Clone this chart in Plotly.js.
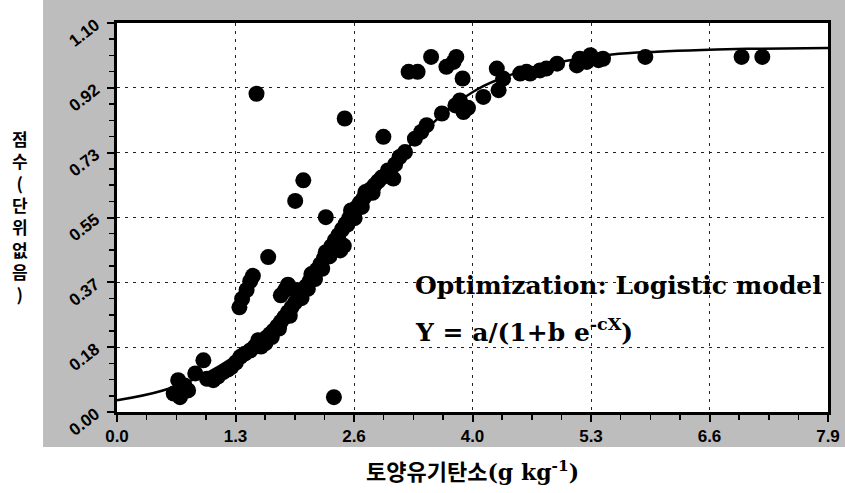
<!DOCTYPE html>
<html>
<head>
<meta charset="utf-8">
<script src="https://cdn.plot.ly/plotly-3.0.1.min.js"></script>
<style>html,body{margin:0;padding:0;background:#fff;}#chart{width:845px;height:493px;}</style>
</head>
<body>
<div id="chart"></div>
<script>
// Observed points: soil organic carbon (g kg-1) vs score (unitless)
const soilCarbon = [
  0.63,0.68,0.70,0.75,0.79,0.87,0.96,1.00,1.07,1.12,1.18,1.23,1.27,1.32,1.37,1.42,1.48,1.53,1.57,
  1.36,1.39,1.44,1.48,1.51,
  1.55,
  1.68,
  1.82,1.87,1.90,
  1.98,2.07,
  2.32,
  2.41,
  2.44,2.48,2.52,
  2.53,
  2.96,
  1.62,1.66,1.70,1.74,1.78,1.82,1.86,1.90,1.94,1.98,2.02,2.06,2.10,2.14,2.18,2.22,2.26,2.30,2.34,2.38,
  2.42,2.46,2.50,2.54,2.58,2.62,2.66,2.70,2.74,2.78,2.82,2.86,2.90,2.94,3.01,3.07,3.09,3.14,3.20,
  1.72,1.80,1.92,2.05,2.12,2.20,2.28,2.36,2.56,2.64,2.72,2.84,2.00,2.16,2.32,2.60,2.76,1.60,1.65,
  3.24,3.34,3.49,3.66,3.74,3.77,3.84,
  3.31,3.38,3.44,3.61,3.76,3.81,3.85,3.90,4.07,4.24,4.22,4.29,
  4.48,4.55,4.59,4.70,4.77,4.89,
  5.11,5.14,5.22,5.26,5.35,5.40,
  5.87,6.94,7.17
];
const score = [
  0.052,0.090,0.042,0.075,0.061,0.109,0.146,0.094,0.090,0.100,0.113,0.120,0.127,0.140,0.156,0.165,0.174,0.185,0.203,
  0.296,0.320,0.345,0.370,0.385,
  0.900,
  0.438,
  0.330,0.345,0.360,
  0.597,0.655,
  0.551,
  0.042,
  0.476,0.457,0.470,
  0.830,
  0.778,
  0.200,0.210,0.220,0.230,0.242,0.255,0.268,0.282,0.296,0.310,0.325,0.340,0.355,0.370,0.386,0.402,0.418,0.435,0.452,0.468,
  0.485,0.500,0.516,0.532,0.548,0.563,0.578,0.592,0.605,0.617,0.630,0.641,0.652,0.663,0.683,0.660,0.700,0.721,0.735,
  0.212,0.236,0.272,0.322,0.348,0.376,0.405,0.440,0.530,0.548,0.580,0.620,0.345,0.390,0.452,0.570,0.622,0.185,0.195,
  0.962,0.962,1.004,0.976,0.990,1.004,0.943,
  0.773,0.792,0.811,0.844,0.867,0.881,0.848,0.860,0.891,0.910,0.971,0.943,
  0.957,0.962,0.957,0.966,0.971,0.985,
  0.980,0.999,0.990,1.009,0.995,0.999,
  1.004,1.004,1.004
];
// Fitted logistic curve
const curveX = [0.0,0.5,1.0,1.5,2.0,2.5,3.0,3.5,4.0,4.5,5.0,5.5,6.0,6.5,7.0,7.9];
const curveY = [0.033,0.060,0.110,0.195,0.330,0.510,0.680,0.815,0.912,0.964,0.993,1.011,1.019,1.024,1.027,1.029];

const xTickText = ['0.0','1.3','2.6','4.0','5.3','6.6','7.9'];
const yTickText = ['0.00','0.18','0.37','0.55','0.73','0.92','1.10'];
const xMax = 7.9, yMax = 1.1;
const xTickVals = xTickText.map((t,i)=>i*xMax/6);
const yTickVals = yTickText.map((t,i)=>i*yMax/6);

const traces = [
  {x: curveX, y: curveY, mode: 'lines', type: 'scatter',
   line: {color: '#000', width: 2.5, shape: 'spline', smoothing: 1}, hoverinfo: 'skip'},
  {x: soilCarbon, y: score, mode: 'markers', type: 'scatter',
   marker: {color: '#000', size: 16, line: {width: 0}}}
];

const axisCommon = {
  showline: true, linecolor: '#000', linewidth: 3, mirror: true,
  ticks: 'outside', ticklen: 7, tickwidth: 2, tickcolor: '#000',
  showgrid: true, gridcolor: '#222', gridwidth: 1, griddash: '3px,5px',
  zeroline: false, tickmode: 'array', fixedrange: true
};

const layout = {
  width: 845, height: 493,
  margin: {l: 117, r: 17, t: 23, b: 81, pad: 0},
  paper_bgcolor: '#ffffff', plot_bgcolor: 'rgba(0,0,0,0)',
  showlegend: false,
  font: {family: 'Liberation Sans, Arial, sans-serif', color: '#000'},
  xaxis: Object.assign({}, axisCommon, {
    range: [0, xMax], tickvals: xTickVals, ticktext: xTickText,
    tickfont: {family: 'Liberation Sans Narrow, Liberation Sans, Arial', size: 17, weight: 'bold', color: '#000'},
    minor: {dtick: xMax/24, tick0: 0, ticks: 'outside', ticklen: 5, tickwidth: 1.5, tickcolor: '#000', showgrid: false}
  }),
  yaxis: Object.assign({}, axisCommon, {
    range: [0, yMax], tickvals: yTickVals, ticktext: yTickText, tickangle: -38,
    ticklabelstandoff: 8,
    tickfont: {family: 'Liberation Sans, Arial', size: 17, weight: 'bold', color: '#000'},
    minor: {dtick: yMax/24, tick0: 0, ticks: 'outside', ticklen: 5, tickwidth: 1.5, tickcolor: '#000', showgrid: false}
  }),
  shapes: [
    {type: 'rect', xref: 'paper', yref: 'paper', layer: 'below',
     x0: -0.104, x1: 1.03, y0: -0.09, y1: 1.07, fillcolor: '#bdbdbd', line: {width: 0}},
    {type: 'rect', xref: 'paper', yref: 'paper', layer: 'below',
     x0: 0, x1: 1, y0: 0, y1: 1, fillcolor: '#ffffff', line: {width: 0}}
  ],
  annotations: [
    {xref: 'paper', yref: 'paper', x: 0.416, y: 0.326, xanchor: 'left', yanchor: 'middle', showarrow: false,
     text: 'Optimization: Logistic model',
     font: {family: 'DejaVu Serif, serif', size: 25, weight: 'bold', color: '#000'}},
    {xref: 'paper', yref: 'paper', x: 0.416, y: 0.21, xanchor: 'left', yanchor: 'middle', showarrow: false,
     text: 'Y = a/(1+b e<sup>-cX</sup>)',
     font: {family: 'DejaVu Serif, serif', size: 25, weight: 'bold', color: '#000'}},
    {xref: 'paper', yref: 'paper', x: 0.5, y: -0.15, xanchor: 'center', yanchor: 'middle', showarrow: false,
     text: '토양유기탄소<span style="font-family:DejaVu Serif">(g kg<sup>-1</sup>)</span>',
     font: {family: 'Noto Sans CJK KR, sans-serif', size: 22, weight: 'bold', color: '#000'}},
    {xref: 'paper', yref: 'paper', x: -0.137, y: 0.505, xanchor: 'center', yanchor: 'middle', showarrow: false,
     text: '점<br>수<br>(<br>단<br>위<br>없<br>음<br>)',
     font: {family: 'Noto Sans CJK KR, sans-serif', size: 17, weight: 'bold', color: '#000'}}
  ]
};

Plotly.newPlot('chart', traces, layout, {staticPlot: true, displayModeBar: false});
</script>
</body>
</html>
